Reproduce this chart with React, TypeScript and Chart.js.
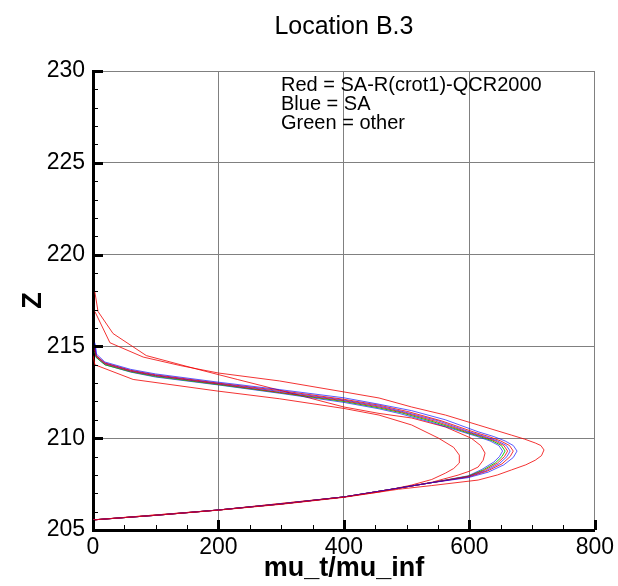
import React, { useEffect, useRef } from "react";
import { Chart, registerables } from "chart.js";

Chart.register(...registerables);

const FONT = "'Liberation Sans', Arial, Helvetica, sans-serif";

// Axis settings
const xMajorTicks = [0, 200, 400, 600, 800];
const zMajorTicks = [205, 210, 215, 220, 225, 230];
const xMinorStep = 50;
const zMinorStep = 1;

const titleText = "Location B.3";
const xTitle = "mu_t/mu_inf";
const yTitle = "Z";
const legendLines = ["Red = SA-R(crot1)-QCR2000", "Blue = SA", "Green = other"];

// Shared lower branch of the cluster curves
const lowerX = [0, 100, 200, 300, 400, 487, 540];
const lowerZ = [205.55, 205.8, 206.09, 206.42, 206.8, 207.28, 207.58];

// Red curves
const red1X = [0, 100, 200, 300, 400, 487, 540, 614, 645, 667, 690, 705, 715, 719, 714, 705, 688, 667, 614, 562, 508, 456, 400, 297, 200, 140, 80, 27, 3];
const red1Z = [205.55, 205.8, 206.08, 206.4, 206.78, 207.22, 207.42, 207.72, 208.0, 208.27, 208.55, 208.8, 209.05, 209.36, 209.6, 209.74, 209.95, 210.17, 210.72, 211.26, 211.7, 212.19, 212.52, 213.12, 213.55, 213.95, 214.42, 215.2, 216.9];

const red2X = [598, 628, 652, 665, 670, 664, 650, 630, 606, 555, 502, 456, 400, 297, 200, 100, 60, 19, 5, 3];
const red2Z = [207.88, 208.2, 208.6, 209.0, 209.3, 209.6, 209.85, 210.1, 210.35, 210.95, 211.45, 211.8, 212.12, 212.6, 213.0, 213.45, 213.7, 214.1, 214.5, 214.9];

const red3X = [598, 624, 645, 656, 661, 655, 641, 620, 596, 546, 495, 456, 400, 297, 200, 100, 60, 19, 5, 3];
const red3Z = [207.92, 208.25, 208.65, 209.0, 209.3, 209.6, 209.85, 210.1, 210.35, 210.92, 211.4, 211.7, 212.04, 212.5, 212.95, 213.4, 213.65, 214.05, 214.45, 214.8];

const red4X = [0, 200, 400, 487, 540, 582, 600, 614, 622, 625, 618, 603, 562, 508, 456, 400, 297, 230, 165, 85, 32, 8, 3];
const red4Z = [205.55, 206.09, 206.8, 207.28, 207.6, 207.99, 208.2, 208.43, 208.8, 209.19, 209.6, 210.0, 210.61, 211.1, 211.35, 211.7, 212.62, 213.2, 213.77, 214.5, 215.7, 216.9, 217.96];

const red5X = [0, 200, 400, 456, 508, 540, 562, 575, 584, 584, 575, 551, 508, 456, 400, 297, 198, 64, 3, 0];
const red5Z = [205.55, 206.09, 206.8, 207.07, 207.45, 207.75, 208.1, 208.35, 208.65, 209.08, 209.5, 210.0, 210.72, 211.26, 211.62, 212.15, 212.57, 213.2, 214.0, 214.5];

// Blue curves
const blue1X = [598, 630, 655, 670, 676, 670, 657, 638, 614, 562, 508, 456, 400, 297, 200, 100, 60, 19, 5, 3];
const blue1Z = [207.85, 208.15, 208.55, 208.95, 209.3, 209.6, 209.85, 210.1, 210.35, 211.0, 211.5, 211.85, 212.2, 212.65, 213.05, 213.5, 213.75, 214.15, 214.6, 215.2];

const blue2X = [598, 626, 648, 660, 665, 659, 645, 624, 600, 550, 498, 456, 400, 297, 200, 100, 60, 19, 5, 4];
const blue2Z = [207.9, 208.22, 208.62, 209.0, 209.3, 209.6, 209.85, 210.1, 210.35, 210.95, 211.42, 211.75, 212.08, 212.55, 212.98, 213.42, 213.68, 214.08, 214.5, 215.0];

const blue3X = [598, 620, 639, 648, 653, 647, 633, 612, 588, 538, 488, 456, 400, 297, 200, 100, 60, 19, 5, 4];
const blue3Z = [207.95, 208.3, 208.7, 209.0, 209.3, 209.6, 209.85, 210.1, 210.35, 210.88, 211.35, 211.6, 211.95, 212.45, 212.9, 213.33, 213.6, 214.0, 214.4, 215.1];

// Green curve
const greenX = [598, 622, 642, 652, 657, 651, 637, 616, 592, 542, 492, 456, 400, 297, 200, 100, 60, 19, 5, 3];
const greenZ = [207.93, 208.27, 208.67, 209.0, 209.3, 209.6, 209.85, 210.1, 210.35, 210.9, 211.38, 211.65, 212.0, 212.48, 212.92, 213.36, 213.62, 214.0, 214.4, 214.7];

const RED = "rgba(240,0,0,0.8)";
const BLUE = "rgba(0,0,255,0.65)";
const GREEN = "rgba(0,190,0,0.9)";

function pts(xs: number[], zs: number[]) {
  return xs.map((x, i) => ({ x, y: zs[i] }));
}
function withLower(xs: number[], zs: number[]) {
  return pts(lowerX.concat(xs), lowerZ.concat(zs));
}

const decor = {
  id: "decor",
  afterDatasetsDraw(chart: any) {
    const { ctx, chartArea: a, scales } = chart;
    const xs = scales.x;
    const ys = scales.y;
    ctx.save();
    ctx.strokeStyle = "#000";
    const xMin = xMajorTicks[0];
    const xMax = xMajorTicks[xMajorTicks.length - 1];
    for (let v = xMin; v <= xMax + 1e-9; v += xMinorStep) {
      const major = xMajorTicks.includes(v);
      const px = Math.round(xs.getPixelForValue(v)) + 0.5;
      ctx.lineWidth = major ? 3 : 1;
      ctx.beginPath();
      ctx.moveTo(px, a.bottom);
      ctx.lineTo(px, a.bottom - (major ? 10 : 5));
      ctx.stroke();
    }
    const zMin = zMajorTicks[0];
    const zMax = zMajorTicks[zMajorTicks.length - 1];
    for (let v = zMin; v <= zMax + 1e-9; v += zMinorStep) {
      const major = zMajorTicks.includes(v);
      const py = Math.round(ys.getPixelForValue(v)) + 0.5;
      ctx.lineWidth = major ? 3 : 1;
      ctx.beginPath();
      ctx.moveTo(a.left, py);
      ctx.lineTo(a.left + (major ? 10 : 5), py);
      ctx.stroke();
    }
    ctx.restore();
  },
  afterDraw(chart: any) {
    const { ctx, chartArea: a } = chart;
    const cx = (a.left + a.right) / 2;
    ctx.save();
    ctx.fillStyle = "#000";
    ctx.textAlign = "center";
    ctx.textBaseline = "alphabetic";
    ctx.font = `25px ${FONT}`;
    ctx.fillText(titleText, cx, 34);
    ctx.font = `bold 27px ${FONT}`;
    ctx.fillText(xTitle, cx, 576);
    ctx.save();
    ctx.translate(41, (a.top + a.bottom) / 2);
    ctx.rotate(-Math.PI / 2);
    ctx.fillText(yTitle, 0, 0);
    ctx.restore();
    ctx.textAlign = "left";
    ctx.font = `20px ${FONT}`;
    legendLines.forEach((t, i) => ctx.fillText(t, 281, 91 + i * 19));
    ctx.restore();
  },
};

export default function App() {
  const ref = useRef<HTMLCanvasElement | null>(null);
  useEffect(() => {
    if (!ref.current) return;
    const line = (data: any[], color: string) => ({
      data,
      borderColor: color,
      backgroundColor: color,
      borderWidth: 1,
      pointRadius: 0,
      showLine: true,
      fill: false,
      tension: 0,
    });
    const chart = new Chart(ref.current, {
      type: "scatter",
      data: {
        datasets: [
          line(pts(red1X, red1Z), RED),
          line(withLower(blue1X, blue1Z), BLUE),
          line(withLower(red2X, red2Z), RED),
          line(withLower(blue2X, blue2Z), BLUE),
          line(withLower(red3X, red3Z), RED),
          line(withLower(greenX, greenZ), GREEN),
          line(withLower(blue3X, blue3Z), BLUE),
          line(pts(red4X, red4Z), RED),
          line(pts(red5X, red5Z), RED),
        ],
      },
      options: {
        animation: false,
        responsive: false,
        maintainAspectRatio: false,
        layout: { padding: { left: 0, top: 71, right: 21, bottom: 0 } },
        plugins: { legend: { display: false }, tooltip: { enabled: false }, title: { display: false } },
        scales: {
          x: {
            type: "linear",
            min: xMajorTicks[0],
            max: xMajorTicks[xMajorTicks.length - 1],
            afterFit: (s: any) => { s.height = 56; },
            afterBuildTicks: (s: any) => { s.ticks = xMajorTicks.map((v) => ({ value: v })); },
            ticks: { font: { family: FONT, size: 23 }, color: "#000", padding: 4, maxRotation: 0 },
            grid: { color: "#808080", lineWidth: 1, drawTicks: false },
            border: { display: true, color: "#000", width: 3 },
          },
          y: {
            type: "linear",
            min: zMajorTicks[0],
            max: zMajorTicks[zMajorTicks.length - 1],
            afterFit: (s: any) => { s.width = 93; },
            afterBuildTicks: (s: any) => { s.ticks = zMajorTicks.map((v) => ({ value: v })); },
            ticks: { font: { family: FONT, size: 23 }, color: "#000", padding: 8 },
            grid: { color: "#808080", lineWidth: 1, drawTicks: false },
            border: { display: true, color: "#000", width: 3 },
          },
        },
      },
      plugins: [decor],
    });
    return () => chart.destroy();
  }, []);
  return (
    <div style={{ position: "fixed", left: 0, top: 0, width: 618, height: 586, background: "#fff" }}>
      <canvas ref={ref} width={618} height={586} style={{ display: "block", width: 618, height: 586 }} />
    </div>
  );
}
